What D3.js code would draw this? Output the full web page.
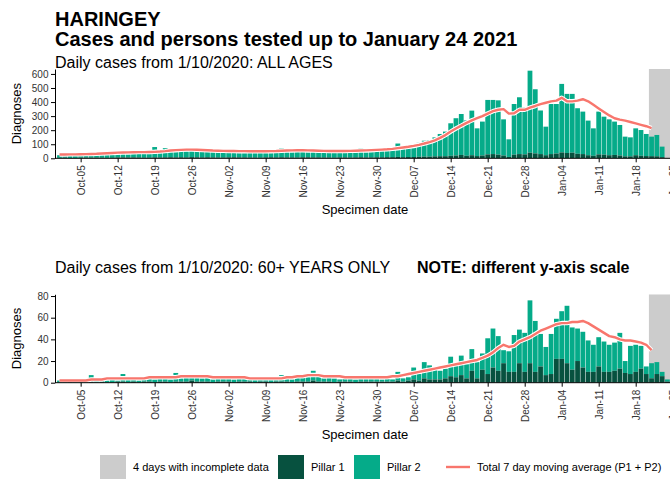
<!DOCTYPE html>
<html>
<head>
<meta charset="utf-8">
<script src="https://cdn.jsdelivr.net/npm/d3@7/dist/d3.min.js"></script>
<style>
  body { margin: 0; background: #fff; }
  svg { display: block; font-family: "Liberation Sans", Arial, sans-serif; }
</style>
</head>
<body>
<svg id="chart" width="670" height="485"></svg>
<script>
// ---- data: daily diagnoses by specimen date, from 1 Oct 2020 to 24 Jan 2021 ----
const startDate = "2020-10-01";
const incompleteDays = 4;

// All ages
const allPillar1 = [
  3,4,2,2,4,5,4,5,4,3,3,5,6,5,6,5,4,4,6,5,6,7,6,7,6,8,7,6,7,6,5,
  5,6,7,6,6,5,5,4,6,7,6,7,6,6,5,7,7,6,6,5,5,4,6,6,5,6,7,6,6,7,
  7,8,8,10,8,9,9,11,12,12,14,15,15,18,20,24,18,22,16,20,28,30,26,20,10,26,30,28,40,35,30,
  22,30,34,42,38,40,32,30,22,18,28,26,22,24,20,14,14,22,18,16,15,14,8,0
];
const allPillar2 = [
  19,21,18,16,24,25,23,25,24,22,21,30,32,31,34,33,28,26,74,37,66,41,46,48,44,50,49,46,43,42,40,
  39,42,43,41,40,40,37,36,39,41,41,63,44,42,40,43,45,42,40,39,37,36,39,38,38,40,63,42,44,45,
  52,52,55,95,60,63,69,99,113,118,135,158,175,231,265,291,252,317,197,241,387,385,386,257,125,360,404,332,583,456,310,
  203,356,352,487,420,418,324,302,246,195,304,270,255,237,217,140,135,191,183,157,139,152,75,0
];
const allAverage = [
  27,27,28,28,29,30,31,32,34,36,38,40,41,42,43,44,44,45,46,48,51,55,58,60,62,62,61,59,57,55,54,
  53,52,52,51,51,50,50,50,50,51,52,54,55,56,57,57,56,55,54,53,52,52,52,52,53,54,55,56,58,60,
  62,64,67,72,77,82,88,96,105,115,128,145,165,190,212,232,252,270,285,300,318,335,345,350,318,320,345,345,360,372,385,
  395,405,410,430,405,405,410,420,405,380,355,330,305,285,275,268,258,248,238,228,215
];

// 60+ years only
const oldPillar1 = [
  0,0,1,0,0,0,1,0,1,0,0,1,1,0,1,0,1,1,0,1,1,0,1,1,1,2,1,1,1,0,1,
  1,1,0,1,1,1,0,1,1,0,1,1,1,0,1,1,1,2,1,1,1,0,1,1,1,0,1,1,1,1,
  1,1,1,2,1,2,3,2,4,3,3,3,4,6,5,7,4,11,4,12,8,14,11,18,10,10,18,10,18,10,15,
  7,8,22,22,18,12,20,14,10,10,15,10,10,11,13,9,8,10,13,8,4,8,6,1
];
const oldPillar2 = [
  2,1,1,1,2,1,6,2,2,2,3,1,7,3,3,2,2,3,3,4,3,3,8,3,4,4,4,3,4,3,3,
  3,4,3,3,4,3,3,2,3,3,3,6,3,3,4,5,4,9,5,3,4,4,2,3,4,3,3,4,3,4,
  2,3,2,8,3,3,11,6,15,13,9,8,9,18,12,18,13,20,15,15,33,36,32,12,19,34,31,36,58,47,30,
  26,37,37,44,53,39,30,33,29,25,27,28,25,26,33,11,26,25,21,7,14,11,4,2
];
const oldAverage = [
  2,2,2,2,2,2,3,3,3,4,4,4,4,4,4,4,4,5,5,5,5,5,5,6,6,6,6,6,6,5,5,
  5,5,5,5,5,4,4,4,4,4,4,4,5,5,6,6,7,7,7,6,6,6,6,5,5,5,5,5,5,5,
  5,5,6,6,7,8,9,10,11,12,13,14,15,16,17,18,19,20,21,23,25,28,32,35,33,34,38,40,42,45,48,
  50,52,54,55,55,56,56,57,55,52,49,46,43,42,40,39,39,38,37,35,30
];

const xTickDates = ["2020-10-05","2020-10-12","2020-10-19","2020-10-26","2020-11-02","2020-11-09",
  "2020-11-16","2020-11-23","2020-11-30","2020-12-07","2020-12-14","2020-12-21","2020-12-28",
  "2021-01-04","2021-01-11","2021-01-18","2021-01-25"];
const allYTicks = [0, 100, 200, 300, 400, 500, 600];
const oldYTicks = [0, 20, 40, 60, 80];

const legendItems = [
  { label: "4 days with incomplete data", kind: "box", color: "#cccccc" },
  { label: "Pillar 1", kind: "box", color: "#07513f" },
  { label: "Pillar 2", kind: "box", color: "#05ab89" },
  { label: "Total 7 day moving average (P1 + P2)", kind: "line", color: "#f8766d" }
];

// ---- drawing ----
const W = 670, H = 485;
const svg = d3.select("#chart");
const parse = d3.utcParse("%Y-%m-%d");
const day0 = parse(startDate);
const dates = allPillar1.map((_, i) => d3.utcDay.offset(day0, i));

const x = d3.scaleUtc()
  .domain([parse("2020-10-01"), parse("2021-01-18")])
  .range([59.5, 635.7]);
const dayW = x(d3.utcDay.offset(day0, 1)) - x(day0);
const plotLeft = 55, plotRight = 680;

const COL = { p1: "#07513f", p2: "#05ab89", grey: "#cccccc", line: "#f8766d", text: "#333" };

// titles
svg.append("text").attr("x", 55).attr("y", 26).attr("font-size", 20).attr("font-weight", "bold")
  .text("HARINGEY");
svg.append("text").attr("x", 55).attr("y", 46).attr("font-size", 20).attr("font-weight", "bold")
  .text("Cases and persons tested up to January 24 2021");

function panel(cfg) {
  const y = d3.scaleLinear().domain([0, cfg.yMax]).range([cfg.bottom, cfg.top]);
  const g = svg.append("g");
  const clipId = "clip-" + cfg.id;
  svg.append("clipPath").attr("id", clipId).append("rect")
    .attr("x", plotLeft).attr("y", cfg.top).attr("width", plotRight - plotLeft).attr("height", cfg.bottom - cfg.top);
  const plot = g.append("g").attr("clip-path", `url(#${clipId})`);

  // incomplete-data shading
  const firstIncomplete = dates[dates.length - incompleteDays];
  plot.append("rect")
    .attr("x", x(firstIncomplete) - dayW / 2).attr("y", cfg.top)
    .attr("width", plotRight - (x(firstIncomplete) - dayW / 2)).attr("height", cfg.bottom - cfg.top)
    .attr("fill", COL.grey);

  // stacked bars: Pillar 1 at the bottom, Pillar 2 on top
  const rows = dates.map((d, i) => ({ d, p1: cfg.p1[i], p2: cfg.p2[i] }));
  const bw = dayW - 0.5;
  plot.append("g").selectAll("rect").data(rows).join("rect")
    .attr("x", r => x(r.d) - bw / 2).attr("width", bw)
    .attr("y", r => y(r.p1 + r.p2)).attr("height", r => y(r.p1) - y(r.p1 + r.p2))
    .attr("fill", COL.p2);
  plot.append("g").selectAll("rect").data(rows).join("rect")
    .attr("x", r => x(r.d) - bw / 2).attr("width", bw)
    .attr("y", r => y(r.p1)).attr("height", r => y(0) - y(r.p1))
    .attr("fill", COL.p1);

  // moving average with a white halo
  const ma = cfg.avg.map((v, i) => [dates[i], v]);
  const line = d3.line().x(p => x(p[0])).y(p => y(p[1]));
  plot.append("path").datum(ma).attr("d", line).attr("fill", "none")
    .attr("stroke", "#fff").attr("stroke-width", 4.5).attr("stroke-linejoin", "round");
  plot.append("path").datum(ma).attr("d", line).attr("fill", "none")
    .attr("stroke", COL.line).attr("stroke-width", 2.4).attr("stroke-linejoin", "round");

  // axes
  const ya = g.append("g").attr("transform", `translate(${plotLeft},0)`)
    .call(d3.axisLeft(y).tickValues(cfg.yTicks).tickSize(4).tickPadding(2.5).tickSizeOuter(0));
  ya.select(".domain").attr("stroke", "#000");
  ya.selectAll(".tick line").attr("stroke", "#000");
  ya.selectAll("text").attr("font-size", 10).attr("fill", COL.text).attr("font-family", null);

  const xa = g.append("g").attr("transform", `translate(0,${cfg.bottom})`)
    .call(d3.axisBottom(x).tickValues(xTickDates.map(parse)).tickSize(4)
      .tickFormat(d3.utcFormat("%b-%d")).tickSizeOuter(0));
  xa.select(".domain").attr("d", `M${plotLeft},0H${plotRight}`).attr("stroke", "#000");
  xa.selectAll(".tick line").attr("stroke", "#000");
  xa.selectAll("text").attr("font-size", 10).attr("fill", COL.text).attr("font-family", null)
    .attr("transform", "rotate(-90)").attr("text-anchor", "end")
    .attr("x", -7).attr("y", 0).attr("dy", "0.35em");

  g.append("text").attr("transform", `translate(21,${(cfg.top + cfg.bottom) / 2}) rotate(-90)`)
    .attr("text-anchor", "middle").attr("font-size", 13).attr("fill", "#000").text("Diagnoses");
  g.append("text").attr("x", 365).attr("y", cfg.bottom + 56).attr("text-anchor", "middle")
    .attr("font-size", 13).attr("fill", "#000").text("Specimen date");
}

svg.append("text").attr("x", 55).attr("y", 68).attr("font-size", 16)
  .text("Daily cases from 1/10/2020: ALL AGES");
panel({ id: "all", top: 69, bottom: 158.3, yMax: 635, yTicks: allYTicks,
        p1: allPillar1, p2: allPillar2, avg: allAverage });

svg.append("text").attr("x", 55).attr("y", 273).attr("font-size", 16)
  .text("Daily cases from 1/10/2020: 60+ YEARS ONLY");
svg.append("text").attr("x", 417).attr("y", 273).attr("font-size", 16).attr("font-weight", "bold")
  .text("NOTE: different y-axis scale");
panel({ id: "old", top: 294.3, bottom: 382.7, yMax: 81.6, yTicks: oldYTicks,
        p1: oldPillar1, p2: oldPillar2, avg: oldAverage });

// legend
const legendX = [100, 278, 354, 446];
const lg = svg.append("g").attr("transform", "translate(0,467)");
legendItems.forEach((it, i) => {
  const gx = legendX[i];
  if (it.kind === "box") {
    lg.append("rect").attr("x", gx).attr("y", -12).attr("width", 26).attr("height", 24).attr("fill", it.color);
  } else {
    lg.append("line").attr("x1", gx).attr("x2", gx + 24).attr("y1", 0).attr("y2", 0)
      .attr("stroke", it.color).attr("stroke-width", 2.4);
  }
  lg.append("text").attr("x", gx + (it.kind === "box" ? 33 : 31)).attr("y", 0).attr("dy", "0.35em")
    .attr("font-size", 11).attr("fill", "#000").text(it.label);
});
</script>
</body>
</html>
